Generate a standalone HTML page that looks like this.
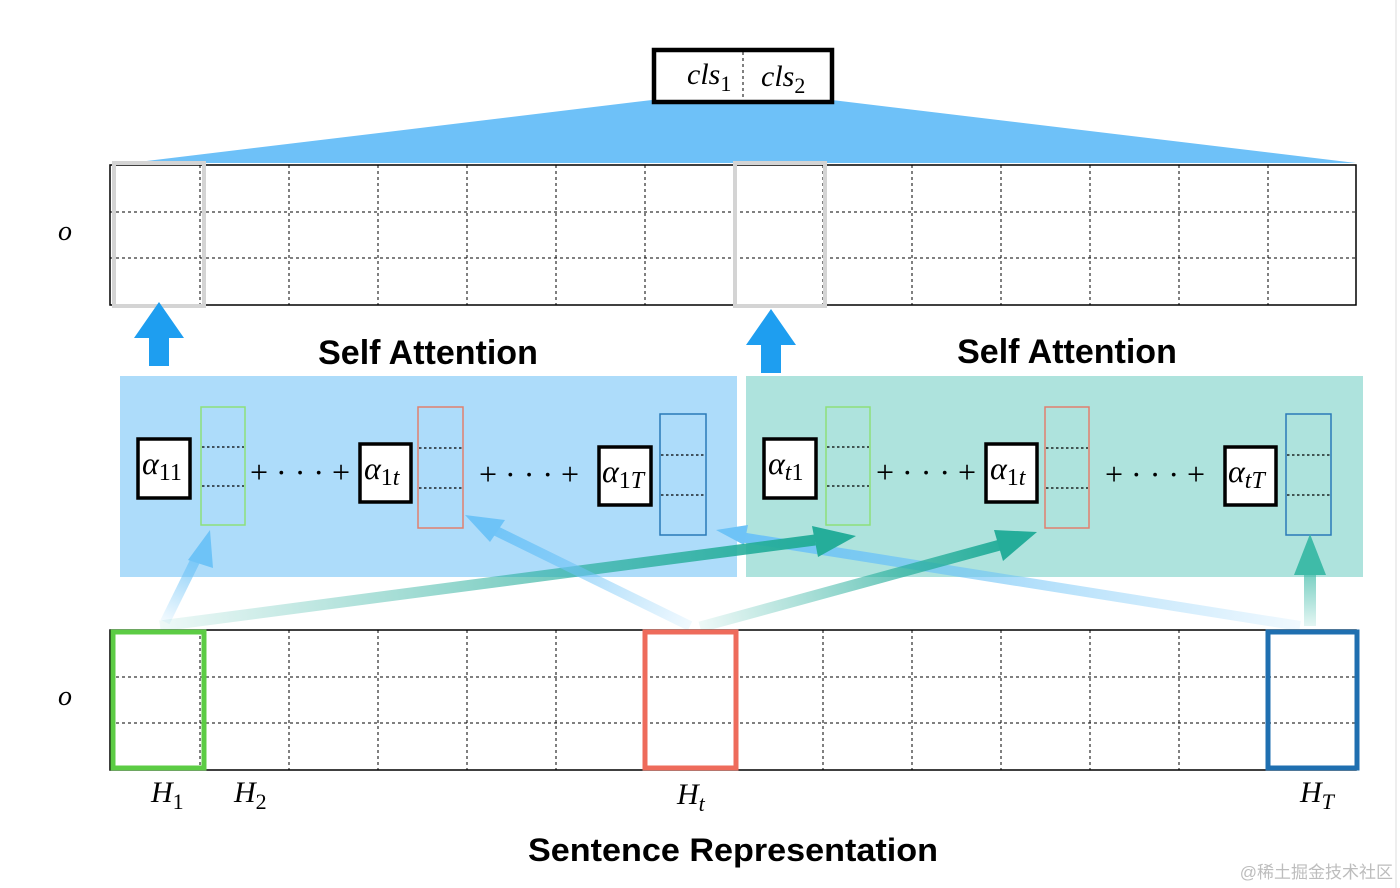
<!DOCTYPE html>
<html><head><meta charset="utf-8"><style>
html,body{margin:0;padding:0;background:#fff;}
svg{display:block;}
.m{font-family:"Liberation Serif",serif;font-style:italic;}
.b{font-family:"Liberation Sans",sans-serif;font-weight:bold;}
</style></head><body>
<svg width="1400" height="888" viewBox="0 0 1400 888" xmlns="http://www.w3.org/2000/svg">
<defs>
<linearGradient id="g1" gradientUnits="userSpaceOnUse" x1="165" y1="620" x2="205" y2="540"><stop offset="0" stop-color="#6ec3f7" stop-opacity="0.1"/><stop offset="1" stop-color="#6ec3f7"/></linearGradient>
<linearGradient id="g2" gradientUnits="userSpaceOnUse" x1="160" y1="625" x2="820" y2="540"><stop offset="0" stop-color="#25ad9a" stop-opacity="0.08"/><stop offset="1" stop-color="#25ad9a"/></linearGradient>
<linearGradient id="g3" gradientUnits="userSpaceOnUse" x1="690" y1="625" x2="480" y2="520"><stop offset="0" stop-color="#6ec3f7" stop-opacity="0.1"/><stop offset="1" stop-color="#6ec3f7"/></linearGradient>
<linearGradient id="g4" gradientUnits="userSpaceOnUse" x1="700" y1="625" x2="1010" y2="540"><stop offset="0" stop-color="#25ad9a" stop-opacity="0.08"/><stop offset="1" stop-color="#25ad9a"/></linearGradient>
<linearGradient id="g5" gradientUnits="userSpaceOnUse" x1="1300" y1="625" x2="740" y2="535"><stop offset="0" stop-color="#6ec3f7" stop-opacity="0.1"/><stop offset="1" stop-color="#6ec3f7"/></linearGradient>
<linearGradient id="g6" gradientUnits="userSpaceOnUse" x1="1310" y1="625" x2="1310" y2="545"><stop offset="0" stop-color="#3fbba8" stop-opacity="0.15"/><stop offset="1" stop-color="#3fbba8"/></linearGradient>
</defs>

<polygon points="652,100 832,100 1356,163 130,163" fill="#6ec1f8"/>
<g>
<rect x="110" y="165" width="1246" height="140" fill="#fff" stroke="#000" stroke-width="1.5"/>
<line x1="110" y1="212" x2="1356" y2="212" stroke="#000" stroke-dasharray="3,3"/>
<line x1="110" y1="258" x2="1356" y2="258" stroke="#000" stroke-dasharray="3,3"/>
<g stroke="#000" stroke-dasharray="3,3">
<line x1="200" y1="165" x2="200" y2="305"/><line x1="289" y1="165" x2="289" y2="305"/><line x1="378" y1="165" x2="378" y2="305"/><line x1="467" y1="165" x2="467" y2="305"/><line x1="556" y1="165" x2="556" y2="305"/><line x1="645" y1="165" x2="645" y2="305"/><line x1="734" y1="165" x2="734" y2="305"/><line x1="823" y1="165" x2="823" y2="305"/><line x1="912" y1="165" x2="912" y2="305"/><line x1="1001" y1="165" x2="1001" y2="305"/><line x1="1090" y1="165" x2="1090" y2="305"/><line x1="1179" y1="165" x2="1179" y2="305"/><line x1="1268" y1="165" x2="1268" y2="305"/>
</g>
</g>
<rect x="114" y="163" width="90" height="143" fill="none" stroke="#d4d4d4" stroke-width="4"/>
<rect x="735" y="163" width="90" height="143" fill="none" stroke="#d4d4d4" stroke-width="4"/>
<rect x="654" y="50" width="178" height="52" fill="#fff" stroke="#000" stroke-width="4.5"/>
<line x1="743" y1="52" x2="743" y2="100" stroke="#000" stroke-dasharray="3,3"/>
<text x="687" y="84" class="m" font-size="30">cls<tspan font-style="normal" font-size="22" dy="7">1</tspan></text>
<text x="761" y="86" class="m" font-size="30">cls<tspan font-style="normal" font-size="22" dy="7">2</tspan></text>

<text x="58" y="240" class="m" font-size="28">o</text>
<text x="58" y="705" class="m" font-size="28">o</text>

<polygon points="159,302 184,338 169,338 169,366 149,366 149,338 134,338" fill="#1e9ef0"/>
<polygon points="771,309 796,345 781,345 781,373 761,373 761,345 746,345" fill="#1e9ef0"/>

<text x="428" y="364" class="b" font-size="34" text-anchor="middle">Self Attention</text>
<text x="1067" y="363" class="b" font-size="34" text-anchor="middle">Self Attention</text>

<rect x="120" y="376" width="617" height="201" fill="#addcfa"/>
<rect x="746" y="376" width="617" height="201" fill="#aee3dd"/>

<g stroke-width="3.5" stroke="#000" fill="#fff">
<rect x="138" y="439" width="52" height="59"/>
<rect x="360" y="444" width="51" height="58"/>
<rect x="599" y="447" width="52" height="58"/>
<rect x="764" y="439" width="52" height="59"/>
<rect x="986" y="444" width="51" height="58"/>
<rect x="1225" y="447" width="51" height="58"/>
</g>
<g fill="none" stroke-width="1.5">
<rect x="201" y="407" width="44" height="118" stroke="#8de07a"/>
<rect x="418" y="407" width="45" height="121" stroke="#e0806e"/>
<rect x="660" y="414" width="46" height="121" stroke="#2a7ab8"/>
<rect x="826" y="407" width="44" height="118" stroke="#8de07a"/>
<rect x="1045" y="407" width="44" height="121" stroke="#e0806e"/>
<rect x="1286" y="414" width="45" height="121" stroke="#2a7ab8"/>
</g>
<g stroke="#000" stroke-dasharray="2.5,2.5" stroke-width="1.3">
<line x1="202" y1="447" x2="244" y2="447"/><line x1="202" y1="486" x2="244" y2="486"/>
<line x1="419" y1="448" x2="462" y2="448"/><line x1="419" y1="488" x2="462" y2="488"/>
<line x1="661" y1="455" x2="705" y2="455"/><line x1="661" y1="495" x2="705" y2="495"/>
<line x1="827" y1="447" x2="869" y2="447"/><line x1="827" y1="486" x2="869" y2="486"/>
<line x1="1046" y1="448" x2="1088" y2="448"/><line x1="1046" y1="488" x2="1088" y2="488"/>
<line x1="1287" y1="455" x2="1330" y2="455"/><line x1="1287" y1="495" x2="1330" y2="495"/>
</g>
<g class="m" font-size="32">
<text x="142" y="474">α<tspan font-style="normal" font-size="24" dy="6">11</tspan></text>
<text x="364" y="479">α<tspan font-style="normal" font-size="24" dy="6">1</tspan><tspan font-size="24">t</tspan></text>
<text x="602" y="482">α<tspan font-style="normal" font-size="24" dy="6">1</tspan><tspan font-size="24">T</tspan></text>
<text x="768" y="474">α<tspan font-size="24" dy="6">t</tspan><tspan font-style="normal" font-size="24">1</tspan></text>
<text x="990" y="479">α<tspan font-style="normal" font-size="24" dy="6">1</tspan><tspan font-size="24">t</tspan></text>
<text x="1228" y="482">α<tspan font-size="24" dy="6">tT</tspan></text>
</g>
<g font-family="Liberation Serif,serif" font-size="32">
<text x="250" y="483">+ · · · +</text>
<text x="479" y="485">+ · · · +</text>
<text x="876" y="483">+ · · · +</text>
<text x="1105" y="485">+ · · · +</text>
</g>

<line x1="165" y1="622" x2="198" y2="555" stroke="url(#g1)" stroke-width="10"/>
<polygon points="210,530 213,568 188,560" fill="#6ec3f7"/>
<line x1="1300" y1="626" x2="740" y2="537" stroke="url(#g5)" stroke-width="10"/>
<polygon points="716,530 748,525 744,545" fill="#6ec3f7"/>
<line x1="160" y1="626" x2="815" y2="540" stroke="url(#g2)" stroke-width="11"/>
<polygon points="856,536 812,526 818,557" fill="#25ad9a"/>
<line x1="690" y1="626" x2="490" y2="528" stroke="url(#g3)" stroke-width="10"/>
<polygon points="465,515 505,520 490,542" fill="#6ec3f7"/>
<line x1="700" y1="627" x2="1000" y2="545" stroke="url(#g4)" stroke-width="11"/>
<polygon points="1037,532 994,530 1003,561" fill="#25ad9a"/>
<line x1="1310" y1="626" x2="1310" y2="570" stroke="url(#g6)" stroke-width="12"/>
<polygon points="1310,534 1326,575 1294,575" fill="#3fbba8"/>

<rect x="110" y="630" width="1246" height="140" fill="none" stroke="#000" stroke-width="1.5"/>
<line x1="110" y1="677" x2="1356" y2="677" stroke="#000" stroke-dasharray="3,3"/>
<line x1="110" y1="723" x2="1356" y2="723" stroke="#000" stroke-dasharray="3,3"/>
<g stroke="#000" stroke-dasharray="3,3">
<line x1="200" y1="630" x2="200" y2="770"/><line x1="289" y1="630" x2="289" y2="770"/><line x1="378" y1="630" x2="378" y2="770"/><line x1="467" y1="630" x2="467" y2="770"/><line x1="556" y1="630" x2="556" y2="770"/><line x1="645" y1="630" x2="645" y2="770"/><line x1="734" y1="630" x2="734" y2="770"/><line x1="823" y1="630" x2="823" y2="770"/><line x1="912" y1="630" x2="912" y2="770"/><line x1="1001" y1="630" x2="1001" y2="770"/><line x1="1090" y1="630" x2="1090" y2="770"/><line x1="1179" y1="630" x2="1179" y2="770"/><line x1="1268" y1="630" x2="1268" y2="770"/>
</g>
<rect x="113" y="632" width="91" height="136" fill="none" stroke="#5ccc44" stroke-width="5"/>
<rect x="645" y="632" width="91" height="136" fill="none" stroke="#ee6b5b" stroke-width="5"/>
<rect x="1268" y="632" width="89" height="136" fill="none" stroke="#1f6fb0" stroke-width="5"/>

<g class="m" font-size="30">
<text x="151" y="802">H<tspan font-style="normal" font-size="22" dy="7">1</tspan></text>
<text x="234" y="802">H<tspan font-style="normal" font-size="22" dy="7">2</tspan></text>
<text x="677" y="804">H<tspan font-size="22" dy="7">t</tspan></text>
<text x="1300" y="802">H<tspan font-size="22" dy="7">T</tspan></text>
</g>
<text x="733" y="861" class="b" font-size="32" text-anchor="middle" textLength="410" lengthAdjust="spacingAndGlyphs">Sentence Representation</text>
<text x="1393" y="878" font-family="Liberation Sans,'Noto Sans CJK SC',sans-serif" font-size="17" fill="#bdbdbd" text-anchor="end">@稀土掘金技术社区</text>
<line x1="1396" y1="0" x2="1396" y2="888" stroke="#eee" stroke-width="2"/>
</svg>
</body></html>
